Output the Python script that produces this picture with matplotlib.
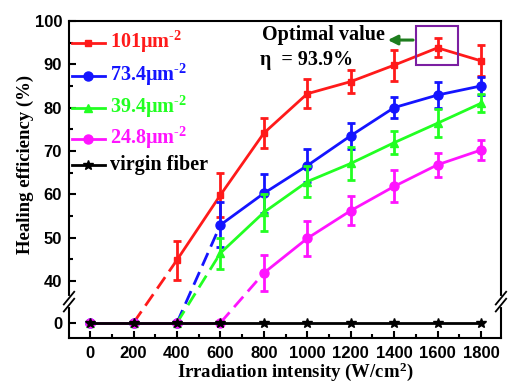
import numpy as np
import matplotlib.pyplot as plt
from matplotlib.patches import Rectangle

# Irradiation intensity (W/cm2)
intensity = [0, 200, 400, 600, 800, 1000, 1200, 1400, 1600, 1800]

# Healing efficiency (%) and error bars for each density
eff_101 = [0, 0, 44.8, 59.8, 74.1, 83.2, 86.0, 89.8, 93.8, 90.8]
err_101 = [0, 0, 4.5, 5.0, 3.5, 3.3, 2.7, 3.6, 2.2, 3.6]
eff_734 = [0, 0, 0, 52.9, 60.2, 66.6, 73.5, 80.0, 82.9, 85.0]
err_734 = [0, 0, 0, 5.2, 4.5, 3.8, 3.0, 2.5, 3.1, 2.0]
eff_394 = [0, 0, 0, 46.4, 55.8, 62.9, 67.1, 71.9, 76.4, 81.0]
err_394 = [0, 0, 0, 3.6, 4.2, 3.6, 3.8, 2.6, 3.3, 2.1]
eff_248 = [0, 0, 0, 0, 41.8, 49.8, 56.2, 61.8, 66.8, 70.2]
err_248 = [0, 0, 0, 0, 4.2, 4.0, 3.3, 3.7, 2.8, 2.4]
eff_virgin = [0, 0, 0, 0, 0, 0, 0, 0, 0, 0]

labels = ['101\u03bcm$^{\\text{-2}}$', '73.4\u03bcm$^{\\text{-2}}$',
          '39.4\u03bcm$^{\\text{-2}}$', '24.8\u03bcm$^{\\text{-2}}$',
          'virgin fiber']
colors = ['#ff1a1a', '#1414ff', '#22ff22', '#ff14ff', 'black']
markers = ['s', 'o', '^', 'o', '*']
msizes = [5, 6.5, 6, 6.5, 7]

# where "0" sits on the broken y axis (below the 40..100 part)
Y_ZERO = 30.3
Y_BREAK = 35.2

plt.rcParams['font.family'] = ['Liberation Serif', 'DejaVu Serif']
plt.rcParams['font.weight'] = 'bold'
plt.rcParams['mathtext.fontset'] = 'custom'
plt.rcParams['mathtext.rm'] = 'Liberation Serif:bold'
plt.rcParams['mathtext.bf'] = 'Liberation Serif:bold'
plt.rcParams['mathtext.it'] = 'Liberation Serif:bold'


def to_axis(v):
    v = np.asarray(v, dtype=float)
    return np.where(v == 0, Y_ZERO, v)


def plot_series(ax, x, y, err, color, marker, ms, z):
    x = np.asarray(x)
    y = np.asarray(y, dtype=float)
    yp = to_axis(y)
    first = int(np.argmax(y > 0))
    # zero part
    ax.plot(x[:first], yp[:first], color=color, lw=2, marker=marker, ms=ms,
            zorder=z)
    # jump across the axis break
    ax.plot(x[first - 1:first + 1], yp[first - 1:first + 1], color=color,
            lw=2, dashes=(5, 2.5), zorder=z)
    # measured part
    ax.errorbar(x[first:], yp[first:], yerr=np.asarray(err)[first:],
                color=color, lw=2, marker=marker, ms=ms, capsize=3,
                capthick=2, elinewidth=2, zorder=z)


fig = plt.figure(figsize=(5.09, 3.86), dpi=100)
ax = fig.add_axes([0.1356, 0.1244, 0.8486, 0.8212])

series = [(eff_101, err_101), (eff_734, err_734), (eff_394, err_394),
          (eff_248, err_248)]
for i, (eff, err) in enumerate(series):
    plot_series(ax, intensity, eff, err, colors[i], markers[i], msizes[i], 3 + i)
ax.plot(intensity, to_axis(eff_virgin), color='black', lw=2, marker='*',
        ms=7, zorder=7)

ax.set_xlim(-97, 1892)
ax.set_ylim(26.8, 100)
ax.set_xticks(range(0, 1801, 200))
ax.set_xticks(range(100, 1801, 200), minor=True)
ax.set_yticks([Y_ZERO, 40, 50, 60, 70, 80, 90, 100])
ax.set_yticklabels(['0', '40', '50', '60', '70', '80', '90', '100'])
ax.set_yticks(range(45, 100, 10), minor=True)
ax.tick_params(which='both', direction='in', top=False, right=False,
               width=1.5)
ax.tick_params(which='major', length=5)
ax.tick_params(which='minor', length=3)
ax.tick_params(axis='x', which='major', pad=6)
ax.tick_params(axis='y', which='major', pad=5)
for lab in ax.get_xticklabels() + ax.get_yticklabels():
    lab.set_family('Liberation Sans')
    lab.set_weight('bold')
    lab.set_size(12)
for s in ax.spines.values():
    s.set_linewidth(1.5)

ax.set_xlabel('Irradiation intensity (W/cm$^{2}$)', fontsize=13.5,
              fontweight='bold')
ax.set_ylabel('Healing efficiency (%)', fontsize=13.5, fontweight='bold')
ax.xaxis.set_label_coords(0.523, -0.072)
ax.yaxis.set_label_coords(-0.081, 0.549)

# axis break marks on both sides
yb = (Y_BREAK - 26.8) / (100 - 26.8)
for xs in (0, 1):
    ax.plot([xs, xs], [yb - 0.012, yb + 0.012], transform=ax.transAxes,
            color='white', lw=3, clip_on=False, zorder=10)
    for dy in (-0.011, 0.011):
        ax.plot([xs - 0.012, xs + 0.012], [yb + dy - 0.02, yb + dy + 0.02],
                transform=ax.transAxes, color='black', lw=1.3,
                clip_on=False, zorder=11)

# legend, laid out by hand (rows in axes fraction)
rows = [0.931, 0.826, 0.726, 0.628, 0.546]
for i, yr in enumerate(rows):
    ax.plot([0.007, 0.083], [yr, yr], transform=ax.transAxes,
            color=colors[i], lw=2, clip_on=False, zorder=9)
    ax.plot([0.045], [yr], transform=ax.transAxes, color=colors[i],
            marker=markers[i], ms=msizes[i], clip_on=False, zorder=9)
    ax.text(0.095, yr - 0.016, labels[i], transform=ax.transAxes,
            color=colors[i], fontsize=14.5, fontweight='bold',
            va='baseline', ha='left')

# optimal value callout
ax.add_patch(Rectangle((1500, 89.8), 194, 9.0, fill=False,
                       edgecolor='#7b1fa2', lw=1.5, zorder=8))
ax.annotate('', xy=(1358, 95.6), xytext=(1500, 95.6),
            arrowprops=dict(arrowstyle='-|>', color='#1e7d1e', lw=2.2,
                            mutation_scale=14), zorder=8)
ax.text(790, 96.8, 'Optimal value', fontsize=14.5, fontweight='bold',
        va='center', ha='left')
ax.text(783, 91.0, '\u03b7  = 93.9%', fontsize=14.5, fontweight='bold',
        va='center', ha='left')

fig.savefig('out.png', dpi=100)
